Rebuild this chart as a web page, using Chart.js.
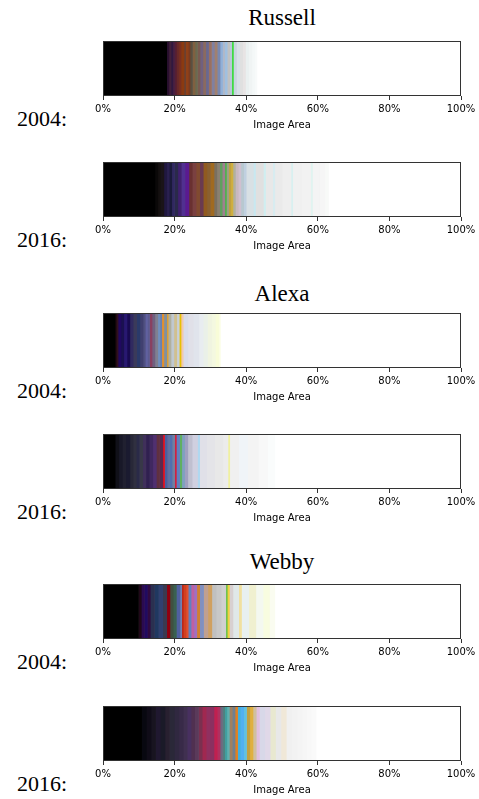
<!DOCTYPE html>
<html>
<head>
<meta charset="utf-8">
<script src="https://cdn.jsdelivr.net/npm/chart.js@4.4.1/dist/chart.umd.min.js"></script>
<style>
  body { margin: 0; background: #fff; }
  #page { position: relative; width: 479px; height: 799px; overflow: hidden; }
  .title { position: absolute; left: 103px; width: 358px; text-align: center;
           font-family: "Liberation Serif", serif; font-size: 23px; line-height: 26px; color: #000; }
  .year { position: absolute; left: 17px; font-family: "Liberation Serif", serif;
          font-size: 22px; line-height: 24px; color: #000; }
  canvas { position: absolute; left: 0; }
</style>
</head>
<body>
<div id="page"></div>
<script>
// colour segments: share of image area (%) per colour
var russell2004Colors = ['#000000','#2a1030','#40203a','#301840','#4a2040','#5a2030','#6a2a28','#7a3020','#8b3a10','#6a4030','#904018','#7a3a20','#5a5040','#806040','#6a6a50','#7a5a50','#706080','#8a6a60','#6a6890','#9a7060','#8080a0','#a08070','#7888b0','#90b0d8','#b0b8c8','#a0c0e0','#c0c0c0','#b8c8d8','#22dd22','#c8d4e0','#d8e0e8','#e0e0e0','#e8e4e4','#eaf0f0','#f0f4f4','#f4f8f8','#f8fafa'];
var russell2004Shares = [17.8,0.6,0.6,0.5,0.6,0.5,0.6,0.6,0.8,0.5,0.7,0.5,0.7,0.7,0.7,0.7,0.8,0.8,0.8,0.8,0.8,0.8,0.8,0.7,0.6,0.7,0.7,0.6,0.4,0.9,0.9,0.8,0.8,0.9,0.9,0.8,0.6];

var russell2016Colors = ['#000000','#0a0808','#141010','#1a1418','#201840','#2a2050','#1a1a3a','#302860','#2a2a4a','#402070','#503090','#5a1a90','#6a3030','#7a4040','#804a30','#6a3a50','#905a20','#8a6030','#a06a20','#7a7060','#8a8070','#60a060','#a08090','#50b050','#a0a080','#c0a040','#d0b040','#b0b0a0','#c8b8c0','#d0c0d0','#b8c8d0','#c0d0e0','#d8e0e4','#c8e8f0','#e0e0e0','#d0eef0','#e8e8e8','#d8ecf0','#eaeaea','#eeeeee','#d8f0f0','#f0f0f0','#f2f2f2','#e0f4f0','#f4f4f4','#f6f6f6','#f8faf8'];
var russell2016Shares = [14.5,0.8,0.8,0.9,0.8,0.7,0.7,0.8,0.9,1.0,1.0,1.1,1.0,1.0,1.0,1.0,1.0,1.0,1.0,0.8,0.8,0.7,0.7,0.5,0.6,0.6,0.6,0.7,0.8,0.7,0.8,0.7,2.0,0.6,2.2,0.6,2.0,0.6,2.0,2.5,0.5,2.5,2.5,0.5,2.0,1.5,1.0];

var alexa2004Colors = ['#000000','#200810','#301020','#200860','#1a1050','#281870','#180a50','#302a60','#3a3a5a','#2a3a6a','#404070','#505080','#6060a0','#5a5a90','#8a4060','#706080','#808090','#7090c0','#6a80b0','#e09030','#8090a0','#e0a030','#b0b0a0','#c0c8d0','#d0c090','#c8d0d8','#e8c000','#f0c8b0','#d8dce8','#e0e0e8','#e0e4ec','#e8ecf0','#eaf0e8','#f0f4e0','#f4f8e0','#f8fcd8','#fcfee8'];
var alexa2004Shares = [3.4,0.4,0.4,0.8,0.8,0.9,0.8,0.9,1.0,0.9,0.9,0.6,0.6,0.6,0.7,0.8,0.8,0.6,0.5,0.6,0.8,0.4,0.8,0.8,0.8,0.7,0.5,0.6,1.3,1.5,1.6,1.2,1.2,1.2,1.0,1.0,0.4];

var alexa2016Colors = ['#000000','#101018','#181828','#202030','#1a1a30','#282838','#303040','#2a2a48','#383848','#40305a','#302050','#402860','#503070','#603040','#5a2a50','#e01020','#4a60a0','#6070a0','#5070b0','#7080a0','#d02040','#6080c0','#60b060','#80a0c0','#a0a0c0','#c0c0d0','#d0d0e0','#b0d8f0','#e0e0e8','#e4e4e8','#e8e8e8','#ececec','#f0f0a0','#f0f0f0','#f0f4f8','#f4f4f4','#f8f8f8','#fafcfc'];
var alexa2016Shares = [3.4,1.0,1.0,1.0,1.1,0.9,0.9,0.9,0.9,0.9,1.0,0.9,1.0,0.9,0.9,0.5,0.7,0.7,0.7,0.7,0.5,0.9,0.6,0.8,0.9,1.2,1.5,0.6,2.0,2.2,2.3,1.4,0.5,2.5,2.5,3.0,2.6,2.0];

var webby2004Colors = ['#000000','#200818','#2a0a50','#200a60','#300a40','#2a3050','#203860','#304070','#3a3a50','#900010','#405040','#3a6050','#5060a0','#7080b0','#c02010','#d04020','#e05030','#6080c0','#c060a0','#a070c0','#d08030','#8090c0','#c0a090','#d0a060','#c0c0c0','#c8c8c8','#d0d0d0','#60c040','#f0d040','#d8d0d0','#e0e8e8','#f0e0a0','#e8f0f0','#f0f0d0','#f4f8f0','#f8fce0','#fafcf0'];
var webby2004Shares = [9.9,0.8,0.9,0.8,0.8,1.2,1.1,1.2,1.1,0.9,0.9,0.9,1.0,0.5,0.4,0.8,0.6,0.8,0.8,0.8,0.8,1.1,1.2,1.1,1.2,1.4,1.3,0.4,0.6,1.0,1.6,0.8,2.0,2.0,2.0,1.8,1.5];

var webby2016Colors = ['#000000','#080810','#100c18','#181420','#201830','#1a1a28','#282030','#2a2838','#302840','#382a48','#403050','#483060','#503050','#5a3a5a','#7a3050','#a02850','#903060','#8a3060','#c02050','#b03060','#6a6a80','#508080','#40a0a0','#60b0b0','#a08060','#708090','#e08020','#40b0e0','#50b0f0','#60c0e0','#c0a040','#e0b040','#d0c0a0','#e0c0e0','#d8d8e8','#e0d8e8','#e8e8d0','#e8e8e8','#f0e8d8','#f0f0f0','#f2f2f2','#f4f4f4','#f6f6f6','#f8f8f8','#fafafa'];
var webby2016Shares = [10.8,1.3,1.3,1.3,1.3,1.3,1.3,1.3,1.3,1.2,1.1,1.1,1.0,1.1,1.0,1.1,1.0,1.2,0.9,0.8,0.7,0.6,0.6,0.7,0.8,0.8,0.7,0.8,0.9,0.8,0.9,0.9,0.9,0.9,1.5,1.5,1.5,1.5,1.5,1.5,1.5,1.4,1.4,1.2,1.3];

var xTicks = [0, 20, 40, 60, 80, 100];
var axisTitle = 'Image Area';

var groups = [
  { name: 'Russell', titleTop: 5 },
  { name: 'Alexa', titleTop: 281 },
  { name: 'Webby', titleTop: 549 }
];
var bars = [
  { year: '2004:', colors: russell2004Colors, shares: russell2004Shares, top: 41 },
  { year: '2016:', colors: russell2016Colors, shares: russell2016Shares, top: 162 },
  { year: '2004:', colors: alexa2004Colors, shares: alexa2004Shares, top: 313 },
  { year: '2016:', colors: alexa2016Colors, shares: alexa2016Shares, top: 434 },
  { year: '2004:', colors: webby2004Colors, shares: webby2004Shares, top: 584 },
  { year: '2016:', colors: webby2016Colors, shares: webby2016Shares, top: 706 }
];

Chart.defaults.font.family = '"DejaVu Sans", sans-serif';
Chart.defaults.color = '#000';

var framePlugin = {
  id: 'frame',
  afterDraw: function(chart) {
    var a = chart.chartArea, ctx = chart.ctx;
    ctx.save();
    ctx.strokeStyle = '#333';
    ctx.lineWidth = 1;
    ctx.strokeRect(Math.round(a.left) + 0.5, Math.round(a.top) + 0.5, Math.round(a.width) - 1, Math.round(a.height) - 1);
    ctx.restore();
  }
};

var page = document.getElementById('page');

groups.forEach(function(g) {
  var d = document.createElement('div');
  d.className = 'title';
  d.style.top = g.titleTop + 'px';
  d.textContent = g.name;
  page.appendChild(d);
});

bars.forEach(function(b) {
  var y = document.createElement('div');
  y.className = 'year';
  y.style.top = (b.top + 66) + 'px';
  y.textContent = b.year;
  page.appendChild(y);

  var cv = document.createElement('canvas');
  cv.width = 479;
  cv.height = 94;
  cv.style.top = (b.top - 2) + 'px';
  page.appendChild(cv);

  var datasets = b.shares.map(function(v, i) {
    return {
      data: [v],
      backgroundColor: b.colors[i],
      borderWidth: 0,
      barPercentage: 1,
      categoryPercentage: 1,
      stack: 'area'
    };
  });

  new Chart(cv.getContext('2d'), {
    type: 'bar',
    data: { labels: [''], datasets: datasets },
    options: {
      indexAxis: 'y',
      responsive: false,
      animation: false,
      devicePixelRatio: 1,
      layout: { padding: { left: 103, right: 18, top: 2, bottom: 0 } },
      plugins: { legend: { display: false }, tooltip: { enabled: false } },
      scales: {
        x: {
          stacked: true,
          min: 0,
          max: 100,
          afterBuildTicks: function(axis) {
            axis.ticks = xTicks.map(function(v) { return { value: v }; });
          },
          ticks: {
            callback: function(v) { return v + '%'; },
            font: { size: 10 },
            padding: 3,
            maxRotation: 0
          },
          grid: { drawOnChartArea: false, drawTicks: true, tickLength: 4, color: '#333' },
          border: { display: false },
          title: { display: true, text: axisTitle, font: { size: 10 }, padding: { top: 1, bottom: 2 } }
        },
        y: { stacked: true, display: false }
      }
    },
    plugins: [framePlugin]
  });
});
</script>
</body>
</html>
